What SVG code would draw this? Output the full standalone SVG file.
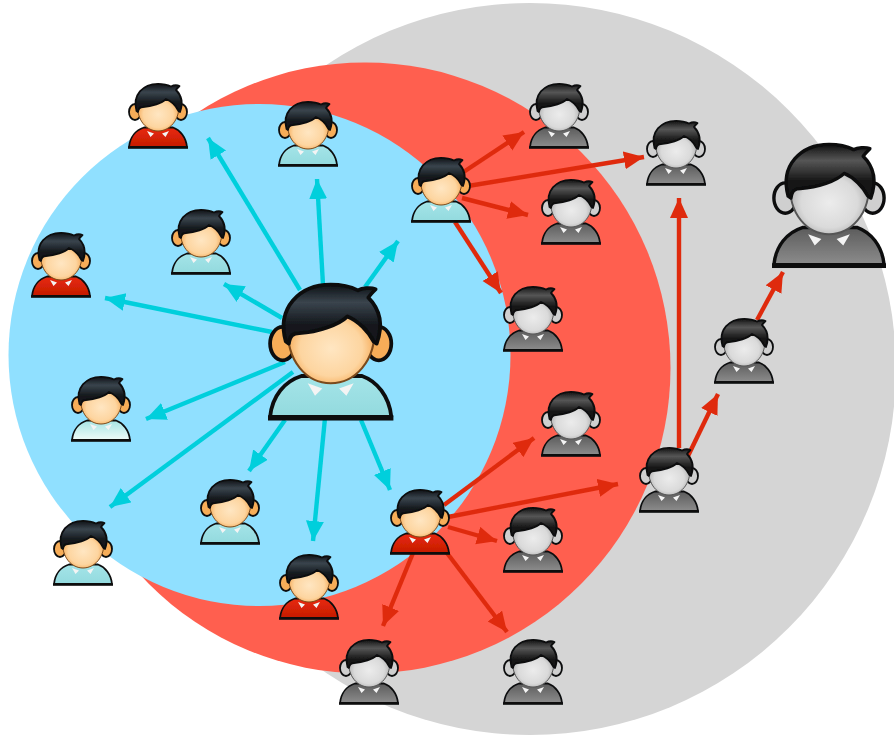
<svg xmlns="http://www.w3.org/2000/svg" width="894" height="738" viewBox="0 0 894 738">
<style>
.c{fill:none;stroke-width:4.4;stroke-linecap:butt}
.cy{stroke:#00cfdc;marker-end:url(#ac)}
.rd{stroke:#df2c0e;marker-end:url(#ar)}
.o{stroke:#0c0e10;stroke-width:1.8;stroke-linejoin:round}
.fo{stroke:#7a4a1c;stroke-width:1}
.go{stroke:#555;stroke-width:1}
.sb{fill:url(#sBlue)}.sp{fill:url(#sPale)}.sr{fill:url(#sRed)}.sg{fill:url(#sGray)}
</style>
<defs>
<filter id="soft" x="0" y="0" width="1" height="1" filterUnits="objectBoundingBox"><feGaussianBlur stdDeviation=".55"/></filter>
<marker id="ac" markerUnits="userSpaceOnUse" markerWidth="24" markerHeight="20" refX="20" refY="9" orient="auto"><path d="M0,0L20,9L0,18Z" fill="#00cfdc"/></marker>
<marker id="ar" markerUnits="userSpaceOnUse" markerWidth="24" markerHeight="20" refX="20" refY="9" orient="auto"><path d="M0,0L20,9L0,18Z" fill="#df2c0e"/></marker>
<radialGradient id="fc" cx=".5" cy=".55" r=".55"><stop offset="0" stop-color="#ffe6c2"/><stop offset=".65" stop-color="#fdd5a0"/><stop offset="1" stop-color="#f5a248"/></radialGradient>
<radialGradient id="fg" cx=".5" cy=".55" r=".55"><stop offset="0" stop-color="#ececec"/><stop offset=".65" stop-color="#dadada"/><stop offset="1" stop-color="#a8a8a8"/></radialGradient>
<linearGradient id="hc" x1="0" y1="0" x2="0" y2="1"><stop offset="0" stop-color="#0e1216"/><stop offset=".3" stop-color="#3a444d"/><stop offset=".7" stop-color="#12161a"/></linearGradient>
<linearGradient id="hg" x1="0" y1="0" x2="0" y2="1"><stop offset="0" stop-color="#121212"/><stop offset=".3" stop-color="#565656"/><stop offset=".7" stop-color="#141414"/></linearGradient>
<linearGradient id="sBlue" x1="0" y1="0" x2="0" y2="1"><stop offset="0" stop-color="#a4e4e8"/><stop offset="1" stop-color="#93dade"/></linearGradient>
<linearGradient id="sPale" x1="0" y1="0" x2="0" y2="1"><stop offset="0" stop-color="#a6e4e4"/><stop offset="1" stop-color="#eefbf8"/></linearGradient>
<linearGradient id="sRed" x1="0" y1="0" x2="0" y2="1"><stop offset="0" stop-color="#e8290c"/><stop offset="1" stop-color="#c41c02"/></linearGradient>
<linearGradient id="sGray" x1="0" y1="0" x2="0" y2="1"><stop offset="0" stop-color="#5c5c5c"/><stop offset="1" stop-color="#8c8c8c"/></linearGradient>
<g id="body"><path class="o" d="M1,64 C2,54 8,47 16,44.500 L45,44.500 C52,47 58,54 59,64 Z"/><rect x="0" y="63.300" width="60" height="2.500" fill="#0c0e10"/><path d="M19,48L26,50.500L22.500,54Z M41,48L34,50.500L37.500,54Z" fill="#f4f4f4"/></g>
<path id="hair" class="o" d="M8.500,28 C4,12 15,.8 30,.8 C36,.8 40,2 43,3.500 C45,2.500 49,2 51.500,3 C50,4.500 48.500,6 48,7 C52,11 56,18 52,29 L50.500,28 C48,23 43,18 38,16 C34,20 24,23.500 15,24 C12,24 10.500,25 10,29 Z"/>
<g id="headC"><ellipse class="o" cx="7" cy="29" rx="6" ry="8" fill="#f7ad58"/><ellipse class="o" cx="53" cy="29" rx="6" ry="8" fill="#f7ad58"/><path class="fo" d="M9.500,20 C8.500,38 19,48 30,48 C41,48 52,38 51,20 C45,8 16,8 9.500,20Z" fill="url(#fc)"/><use href="#hair" fill="url(#hc)"/></g>
<g id="headG"><ellipse class="o" cx="7" cy="29" rx="6" ry="8" fill="#cfcfcf"/><ellipse class="o" cx="53" cy="29" rx="6" ry="8" fill="#cfcfcf"/><path class="go" d="M9.500,20 C8.500,38 19,48 30,48 C41,48 52,38 51,20 C45,8 16,8 9.500,20Z" fill="url(#fg)"/><use href="#hair" fill="url(#hg)"/></g>
</defs>
<g filter="url(#soft)">
<circle cx="530" cy="369" r="366" fill="#d5d5d5"/>
<circle cx="365" cy="368" r="305.500" fill="#ff5f4f"/>
<circle cx="259.500" cy="355" r="251" fill="#90e0ff"/>
<g id="connectors">
<path class="c cy" d="M300,290L208,138"/>
<path class="c cy" d="M323,285L317,179"/>
<path class="c cy" d="M365,287L398,241"/>
<path class="c cy" d="M282,318L224,284"/>
<path class="c cy" d="M272,332L105,298"/>
<path class="c cy" d="M285,362L146,419"/>
<path class="c cy" d="M293,372L110,507"/>
<path class="c cy" d="M285,420L249,471"/>
<path class="c cy" d="M325,418L313,541"/>
<path class="c cy" d="M361,420L390,490"/>
<path class="c rd" d="M462,173L524,132"/>
<path class="c rd" d="M468,186L644,157"/>
<path class="c rd" d="M462,198L528,215"/>
<path class="c rd" d="M455,222L501,293"/>
<path class="c rd" d="M444,505L534,438"/>
<path class="c rd" d="M448,517L618,484"/>
<path class="c rd" d="M448,527L497,541"/>
<path class="c rd" d="M413,553L383,626"/>
<path class="c rd" d="M447,553L507,632"/>
<path class="c rd" d="M679,448L679,198"/>
<path class="c rd" d="M688,456L718,394"/>
<path class="c rd" d="M757,320L783,272"/>
</g>
<g id="center" transform="translate(268 283) scale(2.09)"><use href="#body" class="sb"/><use href="#headC"/></g>
<g id="b1" transform="translate(278 101)"><use href="#body" class="sb"/><use href="#headC"/></g>
<g id="b2" transform="translate(171 209)"><use href="#body" class="sb"/><use href="#headC"/></g>
<g id="b3" transform="translate(71 376)"><use href="#body" class="sp"/><use href="#headC"/></g>
<g id="b4" transform="translate(200 479)"><use href="#body" class="sb"/><use href="#headC"/></g>
<g id="b5" transform="translate(53 520)"><use href="#body" class="sb"/><use href="#headC"/></g>
<g id="b6" transform="translate(411 157)"><use href="#body" class="sb"/><use href="#headC"/></g>
<g id="r1" transform="translate(128 83)"><use href="#body" class="sr"/><use href="#headC"/></g>
<g id="r2" transform="translate(31 232)"><use href="#body" class="sr"/><use href="#headC"/></g>
<g id="r3" transform="translate(279 554)"><use href="#body" class="sr"/><use href="#headC"/></g>
<g id="r4" transform="translate(390 489)"><use href="#body" class="sr"/><use href="#headC"/></g>
<g id="g1" transform="translate(529 83)"><use href="#body" class="sg"/><use href="#headG"/></g>
<g id="g2" transform="translate(646 120)"><use href="#body" class="sg"/><use href="#headG"/></g>
<g id="g3" transform="translate(541 179)"><use href="#body" class="sg"/><use href="#headG"/></g>
<g id="g4" transform="translate(503 286)"><use href="#body" class="sg"/><use href="#headG"/></g>
<g id="g5" transform="translate(541 391)"><use href="#body" class="sg"/><use href="#headG"/></g>
<g id="g6" transform="translate(639 447)"><use href="#body" class="sg"/><use href="#headG"/></g>
<g id="g7" transform="translate(503 507)"><use href="#body" class="sg"/><use href="#headG"/></g>
<g id="g8" transform="translate(339 639)"><use href="#body" class="sg"/><use href="#headG"/></g>
<g id="g9" transform="translate(503 639)"><use href="#body" class="sg"/><use href="#headG"/></g>
<g id="g10" transform="translate(714 318)"><use href="#body" class="sg"/><use href="#headG"/></g>
<g id="g11" transform="translate(772 143) scale(1.9)"><use href="#body" class="sg"/><use href="#headG"/></g>
</g>
</svg>
